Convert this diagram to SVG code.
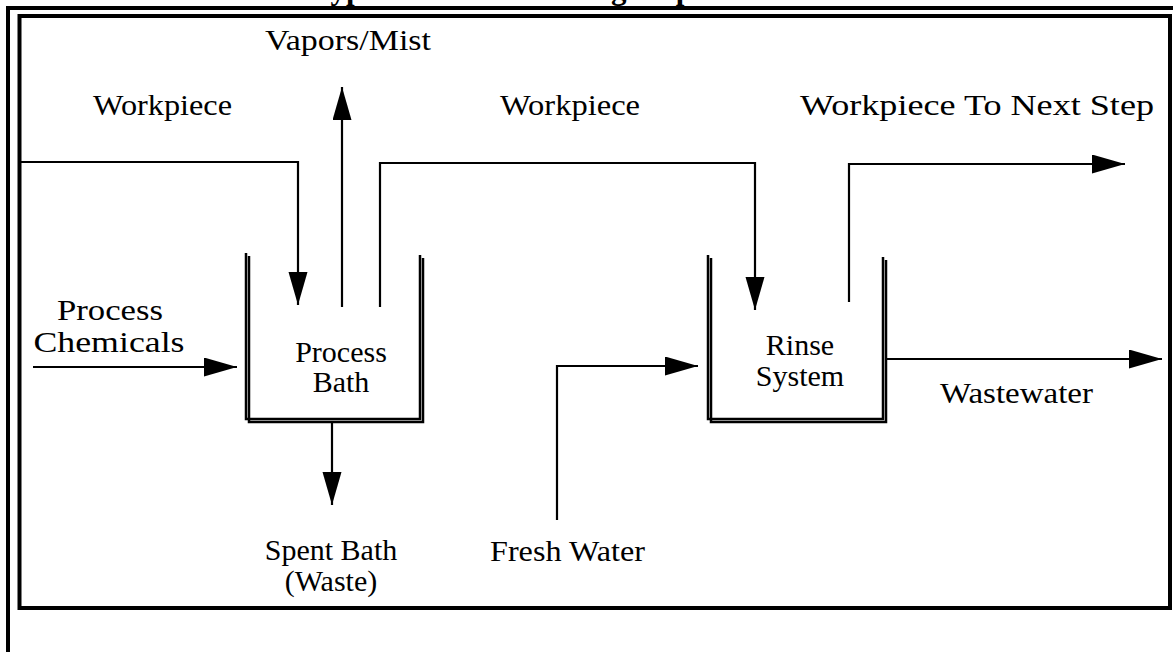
<svg xmlns="http://www.w3.org/2000/svg" width="1173" height="652" viewBox="0 0 1173 652">
<style>
.t{font-family:"Liberation Serif","Times New Roman",serif;font-size:30px;fill:#000}
.c{text-anchor:middle}
.ttl{font-family:"Liberation Serif","Times New Roman",serif;font-size:31px;font-weight:bold;fill:#000}
.frame{fill:none;stroke:#000;stroke-width:4}
.wall{fill:none;stroke:#000;stroke-width:2.5}
.ln{fill:none;stroke:#000;stroke-width:2.2;marker-end:url(#ah)}
</style>
<defs>
<marker id="ah" markerUnits="userSpaceOnUse" markerWidth="34" markerHeight="20" refX="33" refY="9.5" orient="auto" viewBox="0 0 34 20">
<path d="M0,0 L33,9.5 L0,19 Z" fill="#000"/>
</marker>
</defs>
<rect width="1173" height="652" fill="#fff"/>
<text class="ttl" x="312" y="-1">Typical Metal Finishing Step</text>
<g id="frame">
<path class="frame" d="M8,652 V8 H1173"/>
<rect class="frame" x="19.5" y="16" width="1150.5" height="592"/>
</g>
<g id="process-bath">
<path class="wall" d="M246,253 V419 H420 V255"/>
<path class="wall" d="M249,256 V422 H423 V258"/>
<text class="t c" x="341" y="362">Process</text>
<text class="t c" x="341" y="392">Bath</text>
</g>
<g id="rinse-system">
<path class="wall" d="M708,255 V419 H883 V257"/>
<path class="wall" d="M711,258 V422 H886 V260"/>
<text class="t c" x="800" y="355">Rinse</text>
<text class="t c" x="800" y="386">System</text>
</g>
<g id="labels">
<text class="t" x="265" y="50" textLength="166" lengthAdjust="spacingAndGlyphs">Vapors/Mist</text>
<text class="t" x="93" y="115" textLength="139" lengthAdjust="spacingAndGlyphs">Workpiece</text>
<text class="t" x="500" y="115" textLength="140" lengthAdjust="spacingAndGlyphs">Workpiece</text>
<text class="t" x="800" y="115" textLength="354" lengthAdjust="spacingAndGlyphs">Workpiece To Next Step</text>
<text class="t c" x="110" y="320" textLength="106" lengthAdjust="spacingAndGlyphs">Process</text>
<text class="t c" x="109" y="352" textLength="151" lengthAdjust="spacingAndGlyphs">Chemicals</text>
<text class="t" x="940" y="403" textLength="153" lengthAdjust="spacingAndGlyphs">Wastewater</text>
<text class="t c" x="331" y="560">Spent Bath</text>
<text class="t c" x="331" y="591">(Waste)</text>
<text class="t" x="490" y="561" textLength="155" lengthAdjust="spacingAndGlyphs">Fresh Water</text>
</g>
<g id="connectors">
<path class="ln" d="M21,162 H298 V305"/>
<path class="ln" d="M342,307 V87"/>
<path class="ln" d="M380,307 V163 H755 V310"/>
<path class="ln" d="M849,302 V164 H1125"/>
<path class="ln" d="M33,367 H237"/>
<path class="ln" d="M557,520 V366 H698"/>
<path class="ln" d="M887,359 H1162"/>
<path class="ln" d="M332,423 V505"/>
</g>
</svg>
